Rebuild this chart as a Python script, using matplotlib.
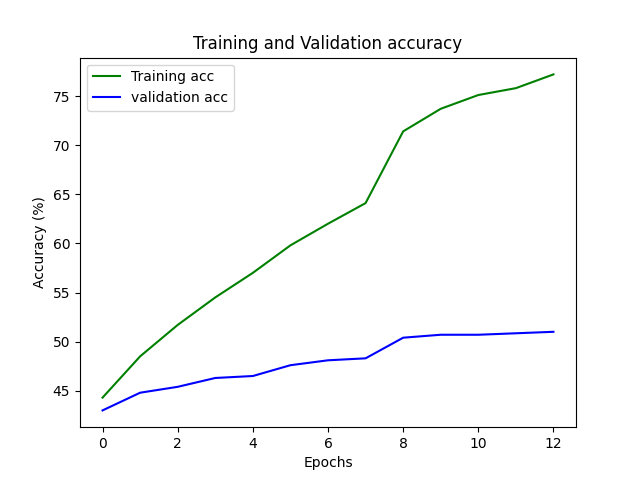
import matplotlib
matplotlib.use("Agg")
import matplotlib.pyplot as plt

epochs = list(range(13))
train_acc = [44.3, 48.5, 51.7, 54.5, 57.0, 59.8, 62.0, 64.1, 71.4, 73.7, 75.1, 75.8, 77.2]
val_acc = [43.0, 44.8, 45.4, 46.3, 46.5, 47.6, 48.1, 48.3, 50.4, 50.7, 50.7, 50.85, 51.0]

plt.figure(figsize=(6.4, 4.8), dpi=100)
plt.plot(epochs, train_acc, color='green', label='Training acc')
plt.plot(epochs, val_acc, color='blue', label='validation acc')
plt.title('Training and Validation accuracy')
plt.xlabel('Epochs')
plt.ylabel('Accuracy (%)')
plt.legend()
plt.savefig('out.png')
